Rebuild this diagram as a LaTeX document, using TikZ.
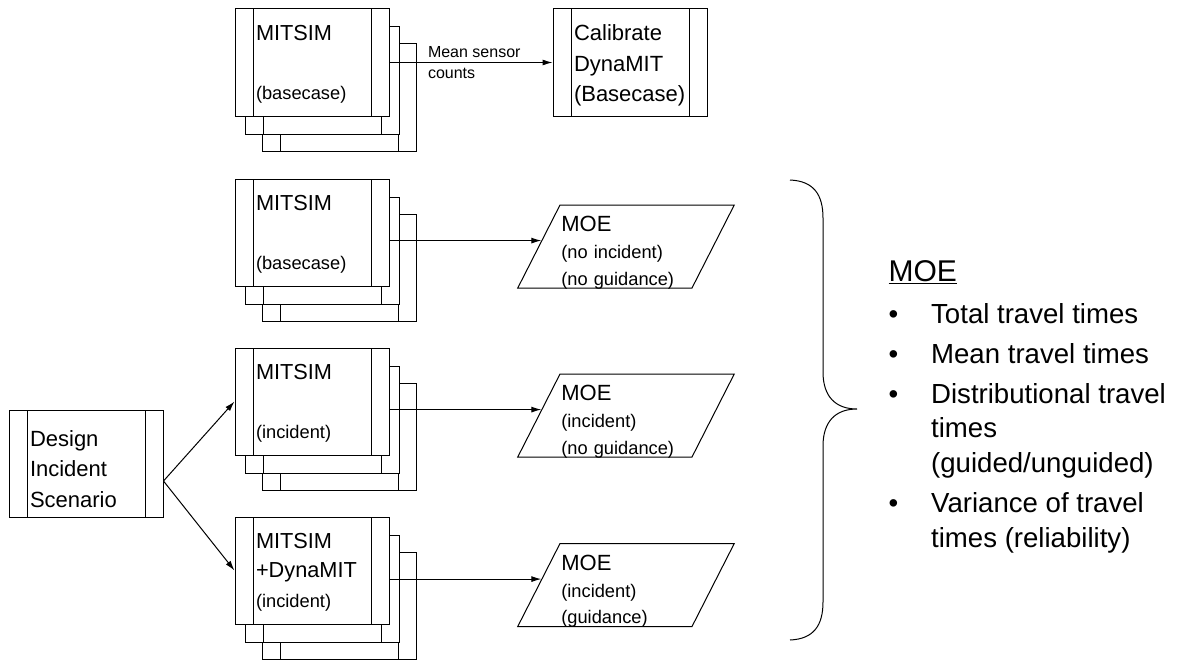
\documentclass[tikz,border=0pt]{standalone}
\usepackage{fontspec}
\setmainfont{Liberation Sans}
\usetikzlibrary{shapes.geometric,arrows.meta}

\newcommand{\subtxt}{\fontsize{13.7}{22}\selectfont}
\newcommand{\moehd}{\fontsize{16.5}{19.9}\selectfont}

\begin{document}
\begin{tikzpicture}[x=0.75pt,y=-0.75pt,
   line width=0.75pt,
   >={Latex[length=7.5pt,width=4.5pt]},
   procbox/.style={draw,fill=white,
      minimum width=115.5pt,minimum height=80.25pt,
      text width=84pt,align=left,inner sep=0pt,
      text height=12pt,text depth=45pt,
      font=\fontsize{16.3}{22}\selectfont,
      path picture={
         \draw ([xshift=13.5pt]path picture bounding box.north west)
            -- ([xshift=13.5pt]path picture bounding box.south west);
         \draw ([xshift=-13.5pt]path picture bounding box.north east)
            -- ([xshift=-13.5pt]path picture bounding box.south east);}},
   bigbox/.style={procbox,font=\fontsize{16.5}{23}\selectfont},
   moebox/.style={draw,trapezium,trapezium left angle=63,
      trapezium right angle=117,trapezium stretches=true,
      minimum height=62.25pt,text width=97pt,inner xsep=1pt,inner ysep=0pt,
      text height=20.2pt,text depth=42pt,
      align=left,font=\fontsize{13.7}{19.9}\selectfont},
   countlbl/.style={font=\fontsize{12}{15.75}\selectfont,align=left,inner sep=0pt}]

\useasboundingbox (0,0) rectangle (1181,660);

% stacked runs, back sheets first
\foreach \y [count=\i] in {62.5,232.5,401.5,570.5} {
   \node[procbox] (back\i c) at (339.5,\y+35) {};
   \node[procbox] (back\i b) at (322,\y+18) {};
}
\node[procbox] (m1) at (312,62.5) {MITSIM\\[22pt]{\subtxt (basecase)}};
\node[procbox] (m2) at (312,232.5) {MITSIM\\[22pt]{\subtxt (basecase)}};
\node[procbox] (m3) at (312,401.5) {MITSIM\\[22pt]{\subtxt (incident)}};
\node[procbox] (m4) at (312,570.5) {MITSIM\\+DynaMIT\\{\subtxt (incident)}};

\node[bigbox] (calib) at (630,62.5) {Calibrate\\DynaMIT\\(Basecase)};
\node[bigbox,text depth=39pt] (design) at (86,464) {Design\\Incident\\Scenario};

% outputs
\node[moebox] (moe1) at (626,246.5) {{\moehd MOE}\\(no incident)\\(no guidance)};
\node[moebox] (moe2) at (626,415.5) {{\moehd MOE}\\(incident)\\(no guidance)};
\node[moebox] (moe3) at (626,585) {{\moehd MOE}\\(incident)\\(guidance)};

\draw[->] (m1.east) -- node[countlbl,pos=0.52] (counts) {Mean sensor\\counts} (calib.west);
\draw[->] (m2.east |- moe1.176) -- (moe1.176);
\draw[->] (m3.east |- moe2.176) -- (moe2.176);
\draw[->] (m4.east |- moe3.176) -- (moe3.176);
\draw[->] ([yshift=-12.75pt]design.east) -- (m3.west);
\draw[->] ([yshift=-12.75pt]design.east) -- (m4.west);

% brace
\draw (790,180) .. controls (814,181) and (823,195) .. (823,218)
   -- (823,372) .. controls (823,397) and (836,409) .. (857,409)
   .. controls (836,409) and (823,421) .. (823,446)
   -- (823,602) .. controls (823,625) and (814,639) .. (790,640);

\node[anchor=base west,inner sep=0pt,font=\fontsize{20.7}{26}\selectfont] (moelist) at (888,281) {%
   \begin{tabular}[t]{@{}p{32pt}@{}l@{}}
   \multicolumn{2}{@{}l@{}}{\fontsize{22.5}{26}\selectfont\underline{MOE}}\\[5.5pt]
   \textbullet & Total travel times\\[4pt]
   \textbullet & Mean travel times\\[4pt]
   \textbullet & Distributional travel\\
               & times\\
               & (guided/unguided)\\[4pt]
   \textbullet & Variance of travel\\
               & times (reliability)
   \end{tabular}};

\end{tikzpicture}
\end{document}
